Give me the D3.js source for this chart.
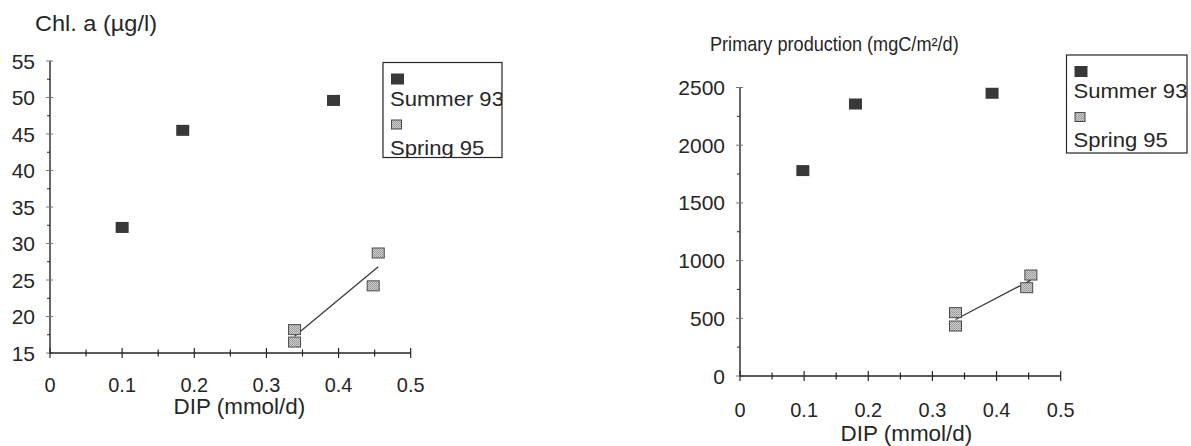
<!DOCTYPE html>
<html>
<head>
<meta charset="utf-8">
<script src="https://cdn.jsdelivr.net/npm/d3@7"></script>
<style>
  html, body { margin: 0; padding: 0; background: #fff; }
  svg { display: block; font-family: "Liberation Sans", Arial, Helvetica, sans-serif; }
</style>
</head>
<body>
<svg id="chart" width="1191" height="446"></svg>
<script>
// ---- data ----
const seasons = ["Summer 93", "Spring 95"];
const xTicks = [0, 0.1, 0.2, 0.3, 0.4, 0.5];
const chlTicks = [15, 20, 25, 30, 35, 40, 45, 50, 55];
const ppTicks = [0, 500, 1000, 1500, 2000, 2500];

// Chlorophyll a vs DIP
const summerDipChl = [0.1, 0.184, 0.393];
const summerChl = [32.2, 45.5, 49.6];
const springDipChl = [0.339, 0.339, 0.455, 0.448];
const springChl = [18.2, 16.5, 28.7, 24.2];

// Primary production vs DIP
const summerDipPP = [0.098, 0.180, 0.393];
const summerPP = [1780, 2357, 2450];
const springDipPP = [0.336, 0.336, 0.4535, 0.447];
const springPP = [549, 433, 875, 765];

const svg = d3.select("#chart");
const ink = "#262626";

// hatched light-grey fill for the spring markers
const defs = svg.append("defs");
const pat = defs.append("pattern")
  .attr("id", "springFill").attr("patternUnits", "userSpaceOnUse")
  .attr("width", 2).attr("height", 2);
pat.append("rect").attr("width", 2).attr("height", 2).attr("fill", "#d0d0d0");
pat.append("rect").attr("width", 1).attr("height", 1).attr("fill", "#939393");
pat.append("rect").attr("x", 1).attr("y", 1).attr("width", 1).attr("height", 1).attr("fill", "#a2a2a2");

function label(g, x, y, text, size, sx, anchor, baseline) {
  return g.append("text")
    .attr("transform", `translate(${x},${y}) scale(${sx},1)`)
    .attr("font-size", size)
    .attr("fill", ink)
    .attr("text-anchor", anchor || "start")
    .attr("dominant-baseline", baseline || "auto")
    .text(text);
}

function regression(xs, ys) {
  const mx = d3.mean(xs), my = d3.mean(ys);
  const sxy = d3.sum(xs, (x, i) => (x - mx) * (ys[i] - my));
  const sxx = d3.sum(xs, x => (x - mx) * (x - mx));
  const b = sxy / sxx;
  return x => my + b * (x - mx);
}

function panel(opt) {
  const g = svg.append("g");
  const x = d3.scaleLinear().domain([0, 0.5]).range(opt.xRange);
  const y = d3.scaleLinear().domain(opt.yDomain).range(opt.yRange);
  const [y0, y1] = opt.yDomain;

  // y axis line and ticks
  g.append("line").attr("x1", x(0)).attr("x2", x(0))
    .attr("y1", y(y0)).attr("y2", y(y1))
    .attr("stroke", ink).attr("stroke-width", 1.4);
  const yStep = opt.yTicks[1] - opt.yTicks[0];
  const yMinor = d3.range(y0 + yStep / 2, y1, yStep);
  g.selectAll(".ymaj").data(opt.yTicks).join("line")
    .attr("x1", x(0) - 4).attr("x2", x(0) + 3)
    .attr("y1", d => y(d)).attr("y2", d => y(d))
    .attr("stroke", "#777").attr("stroke-width", 1);
  g.selectAll(".ymin").data(yMinor).join("line")
    .attr("x1", x(0) - 3).attr("x2", x(0))
    .attr("y1", d => y(d)).attr("y2", d => y(d))
    .attr("stroke", ink).attr("stroke-width", 1);
  opt.yTicks.forEach(t => label(g, x(0) - 15, y(t), String(t), 21, 1.0, "end", "central"));

  // x axis line and ticks
  g.append("line").attr("x1", x(0)).attr("x2", x(0.5))
    .attr("y1", y(y0)).attr("y2", y(y0))
    .attr("stroke", ink).attr("stroke-width", 1.4);
  const xMinor = d3.range(0.05, 0.5, 0.1);
  g.selectAll(".xmaj").data(xTicks).join("line")
    .attr("x1", d => x(d)).attr("x2", d => x(d))
    .attr("y1", y(y0) - 5).attr("y2", y(y0) + 5)
    .attr("stroke", ink).attr("stroke-width", 1.2);
  g.selectAll(".xmin").data(xMinor).join("line")
    .attr("x1", d => x(d)).attr("x2", d => x(d))
    .attr("y1", y(y0) - 3.5).attr("y2", y(y0) + 3.5)
    .attr("stroke", ink).attr("stroke-width", 1.2);
  xTicks.forEach(t => label(g, x(t), y(y0) + opt.xLabelGap, String(t), 21, 0.95, "middle"));
  label(g, (x(0) + x(0.5)) / 2 + opt.xTitleShift, y(y0) + opt.xTitleGap, "DIP (mmol/d)", 22, 1.02, "middle");

  // y title
  label(g, opt.title.x, opt.title.y, opt.title.text, opt.title.size, opt.title.sx, "start");

  // regression line through the spring points
  const f = regression(opt.springX, opt.springY);
  const xs = d3.extent(opt.springX);
  g.append("line")
    .attr("x1", x(xs[0])).attr("y1", y(f(xs[0])))
    .attr("x2", x(xs[1])).attr("y2", y(f(xs[1])))
    .attr("stroke", "#3a3a3a").attr("stroke-width", 1.3);

  // markers
  const mw = 13, mh = 11;
  g.selectAll(".summer").data(opt.summerX).join("rect")
    .attr("x", (d) => x(d) - mw / 2)
    .attr("y", (d, i) => y(opt.summerY[i]) - mh / 2)
    .attr("width", mw).attr("height", mh)
    .attr("fill", "#383838");
  g.selectAll(".spring").data(opt.springX).join("rect")
    .attr("x", (d) => x(d) - mw / 2 + 0.5)
    .attr("y", (d, i) => y(opt.springY[i]) - mh / 2 + 0.5)
    .attr("width", mw - 1).attr("height", mh - 1)
    .attr("fill", "url(#springFill)")
    .attr("stroke", "#4a4a4a").attr("stroke-width", 1);

  // legend
  const L = opt.legend;
  const clipId = "clip" + opt.id;
  defs.append("clipPath").attr("id", clipId)
    .append("rect").attr("x", L.x).attr("y", L.y).attr("width", L.w).attr("height", L.h);
  const lg = g.append("g");
  const inner = lg.append("g").attr("clip-path", `url(#${clipId})`);
  inner.append("rect")
    .attr("x", L.x + 8).attr("y", L.y + 11).attr("width", 13).attr("height", 11)
    .attr("fill", "#383838");
  label(inner, L.x + 7, L.y + 43, seasons[0], 21, 1.05, "start");
  inner.append("rect")
    .attr("x", L.x + 8.5).attr("y", L.y + 57.5).attr("width", 10).attr("height", 9)
    .attr("fill", "url(#springFill)").attr("stroke", "#4a4a4a").attr("stroke-width", 1);
  label(inner, L.x + 7, L.y + 92, seasons[1], 21, 1.05, "start");
  lg.append("rect")
    .attr("x", L.x).attr("y", L.y).attr("width", L.w).attr("height", L.h)
    .attr("fill", "none").attr("stroke", ink).attr("stroke-width", 1.2);
}

panel({
  id: "chl",
  xRange: [50, 410.7],
  yDomain: [15, 55],
  yRange: [353, 61],
  yTicks: chlTicks,
  xLabelGap: 39,
  xTitleGap: 61,
  xTitleShift: 9,
  title: { text: "Chl. a (µg/l)", x: 35, y: 31, size: 22, sx: 1.07 },
  summerX: summerDipChl, summerY: summerChl,
  springX: springDipChl, springY: springChl,
  legend: { x: 383, y: 62.5, w: 119, h: 95 }
});

panel({
  id: "pp",
  xRange: [740, 1060.7],
  yDomain: [0, 2500],
  yRange: [376, 87.5],
  yTicks: ppTicks,
  xLabelGap: 41,
  xTitleGap: 65,
  xTitleShift: 6,
  title: { text: "Primary production (mgC/m²/d)", x: 710, y: 51, size: 19.5, sx: 0.93 },
  summerX: summerDipPP, summerY: summerPP,
  springX: springDipPP, springY: springPP,
  legend: { x: 1066.5, y: 55, w: 120.5, h: 98 }
});
</script>
</body>
</html>
